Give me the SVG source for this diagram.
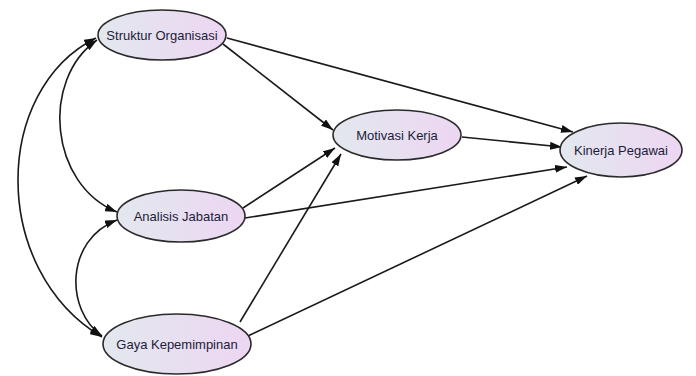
<svg xmlns="http://www.w3.org/2000/svg" width="696" height="376" viewBox="0 0 696 376">
<defs>
<linearGradient id="g" x1="0" y1="0" x2="1" y2="0">
<stop offset="0" stop-color="#e2e8ee"/>
<stop offset="1" stop-color="#edd6f2"/>
</linearGradient>
<marker id="a" viewBox="0 0 12 8" refX="12" refY="4" markerWidth="12" markerHeight="8" markerUnits="userSpaceOnUse" orient="auto-start-reverse">
<path d="M0,0 L12,4 L0,8 Z" fill="#111"/>
</marker>
<style>
.n{fill:url(#g);stroke:#2a2a2a;stroke-width:1.6}
.t{font-family:"Liberation Sans",Arial,sans-serif;font-size:13px;fill:#1c1c3a;text-anchor:middle;dominant-baseline:central}
.c path,.c line{fill:none;stroke:#1a1a1a;stroke-width:1.6;marker-end:url(#a)}
.c .b{marker-start:url(#a)}
</style>
</defs>
<rect width="696" height="376" fill="#fff"/>
<g class="c" id="connectors">
<line x1="223" y1="44" x2="333" y2="130"/>
<line x1="227" y1="38" x2="573" y2="132"/>
<line x1="462" y1="137" x2="562" y2="147"/>
<line x1="243" y1="208" x2="335" y2="148"/>
<line x1="245" y1="218" x2="567" y2="167"/>
<line x1="240" y1="322" x2="341" y2="154"/>
<line x1="248" y1="336" x2="587" y2="176"/>
<path class="b" d="M117,212 C50,185 40,80 97,40"/>
<path class="b" d="M102,337 C-10,270 -8,90 96,38"/>
<path class="b" d="M102,336 C65,310 65,240 117,220"/>
</g>
<g id="so"><ellipse class="n" cx="162" cy="35" rx="64" ry="25"/><text class="t" x="162" y="35">Struktur Organisasi</text></g>
<g id="mk"><ellipse class="n" cx="397" cy="135" rx="64" ry="25"/><text class="t" x="397" y="135">Motivasi Kerja</text></g>
<g id="kp"><ellipse class="n" cx="621" cy="150" rx="61" ry="27"/><text class="t" x="621" y="150">Kinerja Pegawai</text></g>
<g id="aj"><ellipse class="n" cx="181" cy="216" rx="64" ry="26"/><text class="t" x="181" y="216">Analisis Jabatan</text></g>
<g id="gk"><ellipse class="n" cx="177" cy="344" rx="74" ry="30"/><text class="t" x="177" y="344">Gaya Kepemimpinan</text></g>
</svg>
